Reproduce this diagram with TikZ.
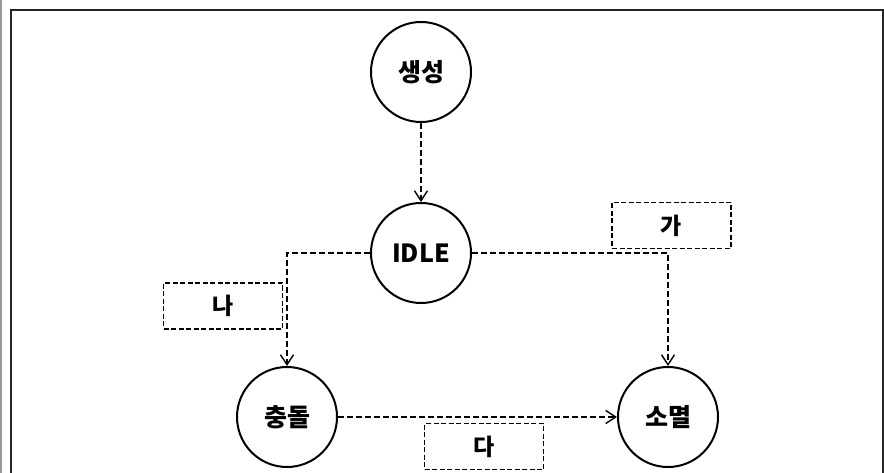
\documentclass[tikz,border=0pt]{standalone}
\usepackage{fontspec}
\setmainfont{Noto Sans CJK KR}
\usetikzlibrary{arrows.meta}

\begin{document}
\begin{tikzpicture}[x=1pt, y=-1pt,
	state/.style={draw, circle, line width=2pt, minimum size=100pt, inner sep=0pt,
		font=\fontsize{25}{29}\selectfont\bfseries},
	tag/.style={draw, line width=1.4pt, dash pattern=on 5pt off 2.5pt,
		minimum width=119pt, minimum height=46pt, inner sep=0pt,
		font=\fontsize{23}{27}\selectfont\bfseries},
	flow/.style={line width=1.7pt, dash pattern=on 6pt off 3pt,
		-{Straight Barb[length=10pt, width=13pt, line width=1.4pt]}}]
	%%%%% START %%%%%

	\useasboundingbox (0, 0) rectangle (884, 473);
	\draw[line width=1.5pt, color=black!40] (1, 0) -- (1, 473);
	\draw[line width=2pt, color=black!85] (10.5, 473) -- (10.5, 10) -- (883, 10) -- (883, 473);

	\node[state] (birth) at (421, 72) {생성};
	\node[state] (idle) at (421, 253) {IDLE};
	\node[state] (crash) at (287, 417) {충돌};
	\node[state] (death) at (668, 417) {소멸};

	\node[tag] (ga) at (671.5, 225.5) {가};
	\node[tag] (na) at (223, 306) {나};
	\node[tag] (da) at (484, 446.5) {다};

	\draw[flow] (birth) -- (idle);
	\draw[flow] (idle.west) -| (crash.north);
	\draw[flow] (idle.east) -| (death.north);
	\draw[flow] (crash) -- (death);

	%%%%% END %%%%%
\end{tikzpicture}
\end{document}
